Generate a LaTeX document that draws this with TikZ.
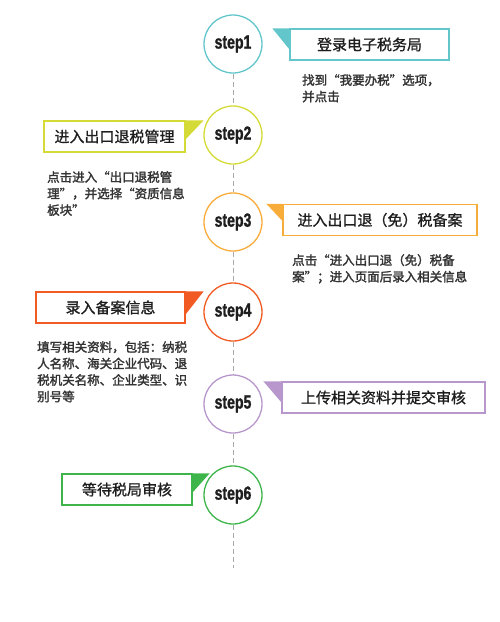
\documentclass[tikz,border=0pt]{standalone}
\usepackage{fontspec}
\setmainfont{Noto Sans CJK SC}[AutoFakeBold=2]
\newfontfamily\headfont{Noto Sans CJK SC}[FakeBold=1]
\newfontfamily\stepfont{Liberation Sans Bold}[FakeStretch=0.74,FakeBold=1.2]
\definecolor{cA}{HTML}{62C6CB}
\definecolor{cB}{HTML}{D5DB36}
\definecolor{cC}{HTML}{F8AC3A}
\definecolor{cD}{HTML}{F15A22}
\definecolor{cE}{HTML}{B898CC}
\definecolor{cF}{HTML}{3DB54A}
\definecolor{txt}{HTML}{1E1E1E}
\definecolor{desc}{HTML}{333333}
\definecolor{dashc}{HTML}{ABABAB}
\begin{document}
\begin{tikzpicture}[x=1pt,y=-1pt,
  stepcircle/.style={circle,draw=#1,line width=1.3pt,fill=white,minimum size=58pt,inner sep=0pt,
    font=\stepfont\fontsize{19}{19}\selectfont,text=txt},
  headbox/.style={draw=#1,line width=1.3pt,fill=white,minimum height=31pt,inner sep=0pt,
    font=\headfont\fontsize{15}{15}\selectfont,text=txt},
  desctext/.style={anchor=north west,inner sep=0pt,align=left,text=desc,
    font=\bfseries\fontsize{12.5}{16.5}\selectfont},
  link/.style={draw=dashc,line width=1pt,dash pattern=on 5pt off 3pt}]
\useasboundingbox (0,0) rectangle (500,622);
% circles
\node[stepcircle=cA] (c1) at (233,44) {step1};
\node[stepcircle=cB] (c2) at (233,135) {step2};
\node[stepcircle=cC] (c3) at (233,222) {step3};
\node[stepcircle=cD] (c4) at (233,312) {step4};
\node[stepcircle=cE] (c5) at (233,404) {step5};
\node[stepcircle=cF] (c6) at (233,495) {step6};
\coordinate (end) at (233,568);
% dashed links
\draw[link] (c1) -- (c2);
\draw[link] (c2) -- (c3);
\draw[link] (c3) -- (c4);
\draw[link] (c4) -- (c5);
\draw[link] (c5) -- (c6);
\draw[link] (c6) -- (end);
% heading boxes
\node[headbox=cA,minimum width=159pt] (b1) at (369.5,44.5) {登录电子税务局};
\node[headbox=cB,minimum width=141pt] (b2) at (114.5,136.5) {进入出口退税管理};
\node[headbox=cC,minimum width=194pt] (b3) at (380,220) {进入出口退（免）税备案};
\node[headbox=cD,minimum width=149pt] (b4) at (110.5,307.5) {录入备案信息};
\node[headbox=cE,minimum width=203pt] (b5) at (383.5,397.5) {上传相关资料并提交审核};
\node[headbox=cF,minimum width=130pt] (b6) at (127,489.5) {等待税局审核};
% flags
\fill[cA] (b1.north west) -- ++(-17,0) -- ++(17,21) -- cycle;
\fill[cB] (b2.north east) -- ++(18,0) -- ++(-18,19) -- cycle;
\fill[cC] (b3.north west) -- ++(-16,0) -- ++(16,17) -- cycle;
\fill[cD] (b4.north east) -- ++(18,0) -- ++(-18,23) -- cycle;
\fill[cE] (b5.north west) -- ++(-18,0) -- ++(18,21) -- cycle;
\fill[cF] (b6.north east) -- ++(17,0) -- ++(-17,19) -- cycle;
% descriptions
\node[desctext] (d1) at (302,74) {找到“我要办税”选项，\\并点击};
\node[desctext] (d2) at (47,171) {点击进入“出口退税管\\理”，并选择“资质信息\\板块”};
\node[desctext] (d3) at (292,254) {点击“进入出口退（免）税备\\案”；进入页面后录入相关信息};
\node[desctext] (d4) at (37,341) {填写相关资料，包括：纳税\\人名称、海关企业代码、退\\税机关名称、企业类型、识\\别号等};
\end{tikzpicture}
\end{document}
